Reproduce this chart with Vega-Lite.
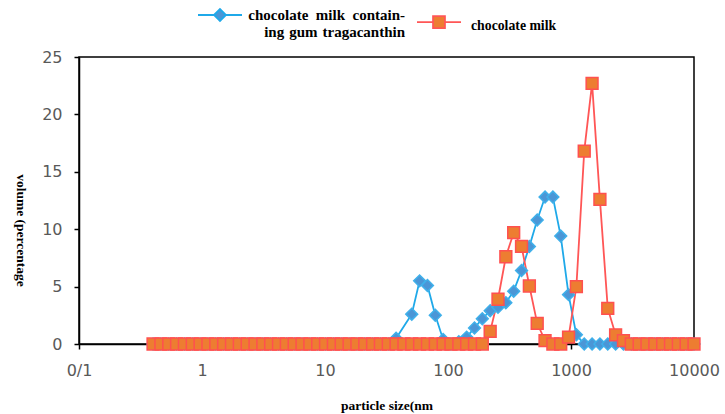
{
  "$schema": "https://vega.github.io/schema/vega-lite/v6.json",
  "width": 615,
  "height": 287,
  "autosize": {"type": "none"},
  "padding": {"left": 79, "top": 57, "right": 31, "bottom": 70},
  "background": "white",
  "config": {
    "view": {"stroke": "black", "strokeWidth": 1.5},
    "axis": {
      "grid": false,
      "domainColor": "black",
      "domainWidth": 1.5,
      "tickColor": "black",
      "tickWidth": 1.5,
      "tickSize": 5,
      "labelColor": "#595959",
      "labelFont": "DejaVu Sans",
      "labelFontSize": 16,
      "labelFlush": false,
      "labelOverlap": false,
      "titleFont": "Liberation Serif",
      "titleFontWeight": "bold",
      "titleFontSize": 13.5,
      "titleColor": "black"
    }
  },
  "data": {
    "values": [
      {"size": 0.4, "chocolate milk containing gum tragacanthin": 0, "chocolate milk": 0},
      {"size": 0.4632, "chocolate milk containing gum tragacanthin": 0, "chocolate milk": 0},
      {"size": 0.5365, "chocolate milk containing gum tragacanthin": 0, "chocolate milk": 0},
      {"size": 0.6213, "chocolate milk containing gum tragacanthin": 0, "chocolate milk": 0},
      {"size": 0.7195, "chocolate milk containing gum tragacanthin": 0, "chocolate milk": 0},
      {"size": 0.8332, "chocolate milk containing gum tragacanthin": 0, "chocolate milk": 0},
      {"size": 0.9649, "chocolate milk containing gum tragacanthin": 0, "chocolate milk": 0},
      {"size": 1.117, "chocolate milk containing gum tragacanthin": 0, "chocolate milk": 0},
      {"size": 1.294, "chocolate milk containing gum tragacanthin": 0, "chocolate milk": 0},
      {"size": 1.499, "chocolate milk containing gum tragacanthin": 0, "chocolate milk": 0},
      {"size": 1.736, "chocolate milk containing gum tragacanthin": 0, "chocolate milk": 0},
      {"size": 2.01, "chocolate milk containing gum tragacanthin": 0, "chocolate milk": 0},
      {"size": 2.328, "chocolate milk containing gum tragacanthin": 0, "chocolate milk": 0},
      {"size": 2.696, "chocolate milk containing gum tragacanthin": 0, "chocolate milk": 0},
      {"size": 3.122, "chocolate milk containing gum tragacanthin": 0, "chocolate milk": 0},
      {"size": 3.615, "chocolate milk containing gum tragacanthin": 0, "chocolate milk": 0},
      {"size": 4.187, "chocolate milk containing gum tragacanthin": 0, "chocolate milk": 0},
      {"size": 4.849, "chocolate milk containing gum tragacanthin": 0, "chocolate milk": 0},
      {"size": 5.615, "chocolate milk containing gum tragacanthin": 0, "chocolate milk": 0},
      {"size": 6.503, "chocolate milk containing gum tragacanthin": 0, "chocolate milk": 0},
      {"size": 7.531, "chocolate milk containing gum tragacanthin": 0, "chocolate milk": 0},
      {"size": 8.721, "chocolate milk containing gum tragacanthin": 0, "chocolate milk": 0},
      {"size": 10.1, "chocolate milk containing gum tragacanthin": 0, "chocolate milk": 0},
      {"size": 11.7, "chocolate milk containing gum tragacanthin": 0, "chocolate milk": 0},
      {"size": 13.54, "chocolate milk containing gum tragacanthin": 0, "chocolate milk": 0},
      {"size": 15.69, "chocolate milk containing gum tragacanthin": 0, "chocolate milk": 0},
      {"size": 18.17, "chocolate milk containing gum tragacanthin": 0, "chocolate milk": 0},
      {"size": 21.04, "chocolate milk containing gum tragacanthin": 0, "chocolate milk": 0},
      {"size": 24.36, "chocolate milk containing gum tragacanthin": 0, "chocolate milk": 0},
      {"size": 28.21, "chocolate milk containing gum tragacanthin": 0, "chocolate milk": 0},
      {"size": 32.67, "chocolate milk containing gum tragacanthin": 0, "chocolate milk": 0},
      {"size": 37.84, "chocolate milk containing gum tragacanthin": 0.5, "chocolate milk": 0},
      {"size": 43.82, "chocolate milk containing gum tragacanthin": null, "chocolate milk": 0},
      {"size": 50.75, "chocolate milk containing gum tragacanthin": 2.6, "chocolate milk": 0},
      {"size": 58.77, "chocolate milk containing gum tragacanthin": 5.5, "chocolate milk": 0},
      {"size": 68.06, "chocolate milk containing gum tragacanthin": 5.1, "chocolate milk": 0},
      {"size": 78.82, "chocolate milk containing gum tragacanthin": 2.5, "chocolate milk": 0},
      {"size": 91.28, "chocolate milk containing gum tragacanthin": 0.4, "chocolate milk": 0},
      {"size": 105.7, "chocolate milk containing gum tragacanthin": 0, "chocolate milk": 0},
      {"size": 122.4, "chocolate milk containing gum tragacanthin": 0.2, "chocolate milk": 0},
      {"size": 141.8, "chocolate milk containing gum tragacanthin": 0.6, "chocolate milk": 0},
      {"size": 164.2, "chocolate milk containing gum tragacanthin": 1.4, "chocolate milk": 0},
      {"size": 190.1, "chocolate milk containing gum tragacanthin": 2.2, "chocolate milk": 0},
      {"size": 220.2, "chocolate milk containing gum tragacanthin": 2.9, "chocolate milk": 1.1},
      {"size": 255.0, "chocolate milk containing gum tragacanthin": 3.2, "chocolate milk": 3.9},
      {"size": 295.3, "chocolate milk containing gum tragacanthin": 3.6, "chocolate milk": 7.6},
      {"size": 342.0, "chocolate milk containing gum tragacanthin": 4.6, "chocolate milk": 9.7},
      {"size": 396.1, "chocolate milk containing gum tragacanthin": 6.4, "chocolate milk": 8.5},
      {"size": 458.7, "chocolate milk containing gum tragacanthin": 8.5, "chocolate milk": 5.05},
      {"size": 531.2, "chocolate milk containing gum tragacanthin": 10.8, "chocolate milk": 1.8},
      {"size": 615.1, "chocolate milk containing gum tragacanthin": 12.8, "chocolate milk": 0.3},
      {"size": 712.4, "chocolate milk containing gum tragacanthin": 12.8, "chocolate milk": 0},
      {"size": 825.0, "chocolate milk containing gum tragacanthin": 9.4, "chocolate milk": 0},
      {"size": 955.4, "chocolate milk containing gum tragacanthin": 4.3, "chocolate milk": 0.6},
      {"size": 1106, "chocolate milk containing gum tragacanthin": 0.8, "chocolate milk": 5.0},
      {"size": 1281, "chocolate milk containing gum tragacanthin": 0, "chocolate milk": 16.8},
      {"size": 1484, "chocolate milk containing gum tragacanthin": 0, "chocolate milk": 22.7},
      {"size": 1718, "chocolate milk containing gum tragacanthin": 0, "chocolate milk": 12.6},
      {"size": 1990, "chocolate milk containing gum tragacanthin": 0, "chocolate milk": 3.1},
      {"size": 2305, "chocolate milk containing gum tragacanthin": 0, "chocolate milk": 0.8},
      {"size": 2669, "chocolate milk containing gum tragacanthin": 0, "chocolate milk": 0.3},
      {"size": 3091, "chocolate milk containing gum tragacanthin": 0, "chocolate milk": 0},
      {"size": 3580, "chocolate milk containing gum tragacanthin": 0, "chocolate milk": 0},
      {"size": 4145, "chocolate milk containing gum tragacanthin": 0, "chocolate milk": 0},
      {"size": 4801, "chocolate milk containing gum tragacanthin": 0, "chocolate milk": 0},
      {"size": 5560, "chocolate milk containing gum tragacanthin": 0, "chocolate milk": 0},
      {"size": 6439, "chocolate milk containing gum tragacanthin": 0, "chocolate milk": 0},
      {"size": 7456, "chocolate milk containing gum tragacanthin": 0, "chocolate milk": 0},
      {"size": 8635, "chocolate milk containing gum tragacanthin": 0, "chocolate milk": 0},
      {"size": 10000, "chocolate milk containing gum tragacanthin": 0, "chocolate milk": 0}
    ]
  },
  "transform": [
    {"fold": ["chocolate milk containing gum tragacanthin", "chocolate milk"], "as": ["series", "volume"]},
    {"filter": "isValid(datum.volume)"}
  ],
  "encoding": {
    "x": {
      "field": "size",
      "type": "quantitative",
      "scale": {"type": "log", "domain": [0.1, 10000]},
      "axis": {
        "values": [0.1, 1, 10, 100, 1000, 10000],
        "labelExpr": "datum.value < 0.5 ? '0/1' : format(datum.value, 'd')",
        "labelPadding": 13,
        "title": "particle size(nm",
        "titleY": 61,
        "titleBaseline": "middle"
      }
    },
    "y": {
      "field": "volume",
      "type": "quantitative",
      "scale": {"domain": [0, 25]},
      "axis": {
        "values": [0, 5, 10, 15, 20, 25],
        "labelPadding": 12,
        "title": "volume (percentage",
        "titleAngle": 90,
        "titleX": -59,
        "titleY": 173,
        "titleAlign": "center",
        "titleBaseline": "middle"
      }
    }
  },
  "layer": [
    {
      "mark": {"type": "line", "strokeWidth": 1.8},
      "encoding": {
        "stroke": {
          "field": "series",
          "type": "nominal",
          "scale": {"domain": ["chocolate milk containing gum tragacanthin", "chocolate milk"], "range": ["#1fa9e9", "#ff5656"]},
          "legend": {
            "orient": "none",
            "legendX": 118,
            "legendY": -50,
            "direction": "horizontal",
            "title": null,
            "padding": 0,
            "symbolType": "M-1,0H-0.27M0.27,0H1M-0.27,0L0,-0.27L0.27,0L0,0.27Z",
            "symbolSize": 1936,
            "symbolStrokeWidth": 1.8,
            "labelFont": "Liberation Serif",
            "labelFontWeight": "bold",
            "labelFontSize": 13.5,
            "labelColor": "black",
            "labelOffset": 5,
            "labelLimit": 400,
            "columnPadding": 8,
            "labelExpr": "datum.value == 'chocolate milk' ? 'chocolate milk' : ['chocolate\u2002milk\u2002contain-', 'ing\u2004gum\u2004tragacanthin']",
            "encode": {
              "symbols": {
                "update": {
                  "shape": {"signal": "datum.value == 'chocolate milk' ? 'M-1,0H-0.27M0.27,0H1M-0.27,-0.27H0.27V0.27H-0.27Z' : 'M-1,0H-0.27M0.27,0H1M-0.27,0L0,-0.27L0.27,0L0,0.27Z'"},
                  "fill": {"signal": "datum.value == 'chocolate milk' ? '#ed7d31' : '#4b96d6'"},
                  "y": {"value": 8},
                  "opacity": {"value": 1},
                  "fillOpacity": {"value": 1},
                  "strokeOpacity": {"value": 1}
                }
              },
              "labels": {
                "update": {
                  "lineHeight": {"value": 17.5},
                  "fontSize": {"signal": "datum.value == 'chocolate milk' ? 13.75 : 15"},
                  "x": {"signal": "datum.value == 'chocolate milk' ? 55 : 208"},
                  "y": {"signal": "datum.value == 'chocolate milk' ? 16 : 12.5"},
                  "align": {"signal": "datum.value == 'chocolate milk' ? 'left' : 'right'"},
                  "baseline": {"value": "alphabetic"},
                  "dy": {"value": 0}
                }
              }
            }
          }
        }
      }
    },
    {
      "transform": [{"filter": "datum.series == 'chocolate milk containing gum tragacanthin'"}],
      "mark": {"type": "point", "shape": "diamond", "filled": true, "size": 140, "strokeWidth": 1.5, "opacity": 1, "fill": "#4b96d6", "stroke": "#3fb0ea"}
    },
    {
      "transform": [{"filter": "datum.series == 'chocolate milk'"}],
      "mark": {"type": "point", "shape": "square", "filled": true, "size": 140, "strokeWidth": 1.5, "opacity": 1, "fill": "#ed7d31", "stroke": "#ff5050"}
    }
  ]
}
